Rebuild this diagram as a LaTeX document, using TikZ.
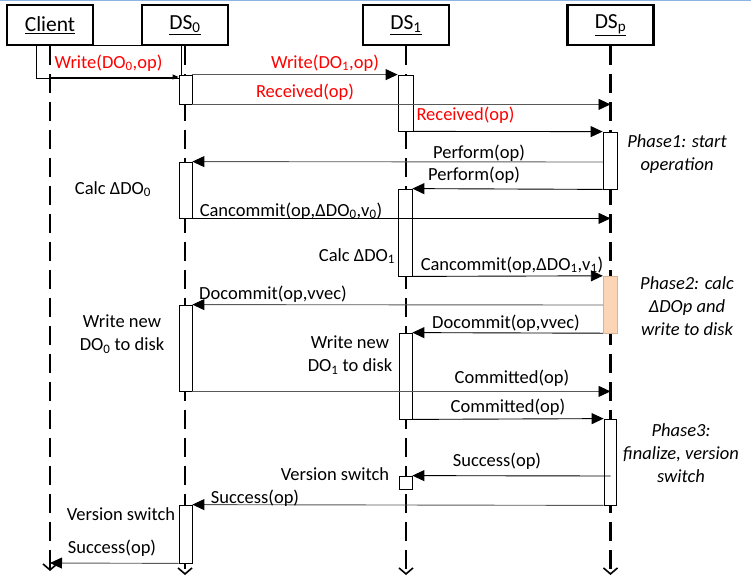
\documentclass[tikz,border=0pt]{standalone}
\usepackage{fontspec}
\setmainfont{Carlito}
\usetikzlibrary{arrows.meta,fit}
\definecolor{peach}{RGB}{251,213,181}
\definecolor{frameblue}{RGB}{141,179,226}
\definecolor{msgred}{RGB}{255,0,0}
\begin{document}
\begin{tikzpicture}[x=1pt,y=-1pt,
  head/.style={draw,line width=2.6pt,minimum width=86pt,minimum height=40pt,inner sep=0pt,font=\fontsize{21.5}{25}\selectfont},
  life/.style={line width=2.4pt,dash pattern=on 19pt off 9pt,-{Straight Barb[length=6pt,width=14pt,line width=1.6pt]}},
  act/.style={draw,fill=white,line width=0.8pt,inner sep=0pt},
  msg/.style={line width=0.9pt,-{Triangle[length=12pt,width=11pt,color=black]}},
  msgsmall/.style={line width=0.9pt,-{Triangle[length=6pt,width=5pt]}},
  lbl/.style={font=\fontsize{18.5}{23}\selectfont,inner sep=0pt,align=center},
  redlbl/.style={lbl,text=msgred},
  phase/.style={inner sep=0pt,align=center,font=\fontsize{18.5}{23}\selectfont\itshape},
]
\useasboundingbox (0,0) rectangle (751,579);
\draw[frameblue,line width=1.5pt] (0,0.5) -- (751,0.5);

% headers
\node[head] (client) at (50,25) {\underline{Client}};
\node[head] (ds0) at (185,25) {\underline{DS\textsubscript{0}}};
\node[head] (ds1) at (406,25) {\underline{DS\textsubscript{1}}};
\node[head] (dsp) at (610.5,25) {\underline{DS\textsubscript{p}}};

% lifelines
\coordinate (cend) at (50,571);
\coordinate (d0end) at (185,575);
\coordinate (d1end) at (406,575);
\coordinate (dpend) at (610.5,575);
\draw[life] (client.south) -- (cend);
\draw[life] (ds0.south) -- (d0end);
\draw[life] (ds1.south) -- (d1end);
\draw[life] (dsp.south) -- (dpend);

% client note
\node[draw,line width=0.8pt,inner sep=0pt,fit={(36,45) (181,78)}] (note) {};
\node[redlbl] (w0) at (108.5,63) {Write(DO\textsubscript{0},op)};

% activations
\node[act,fit={(179,75) (192,104)}] (a01) {};
\node[act,fit={(179,162) (192,218)}] (a02) {};
\node[act,fit={(179,305) (192,391)}] (a03) {};
\node[act,fit={(179,505) (192,563)}] (a04) {};
\node[act,fit={(398,75) (413,131)}] (a11) {};
\node[act,fit={(398,189) (412,276)}] (a12) {};
\node[act,fit={(399,333) (412,419)}] (a13) {};
\node[act,fit={(399,476) (412,489)}] (a14) {};
\node[act,fit={(603,132) (617,189)}] (ap1) {};
\node[act,fill=peach,draw=peach!85!black,line width=0.4pt,fit={(603,276) (617,333)}] (ap2) {};
\node[act,fit={(604,419) (616,505)}] (ap3) {};

% messages
\coordinate (cw) at (50,77);
\draw[msgsmall] (cw) -- (a01.west |- cw);
\draw[msg,black!65] (a01.north east) -- (a11.north west);
\node[redlbl] (w1) at (325,63) {Write(DO\textsubscript{1},op)};
\draw[msg,black!65] (a01.south east) -- (dsp.south |- a01.south east);
\node[redlbl] (r1) at (305,92) {Received(op)};
\draw[msg] (a11.south east) -- (ap1.north west);
\node[redlbl] (r2) at (465.5,115) {Received(op)};

\coordinate (pf1) at (603,162);
\draw[msg,black!65] (pf1) -- (a02.north east);
\node[lbl] (p1) at (479,153) {Perform(op)};
\draw[msg] (ap1.south west) -- (a12.north east);
\node[lbl] (p2) at (474,175) {Perform(op)};
\node[lbl] (c0) at (113,189) {Calc ΔDO\textsubscript{0}};
\draw[msg] (a02.south east) -- (dsp.south |- a02.south east);
\node[lbl] (cc0) at (291,211) {Cancommit(op,ΔDO\textsubscript{0},v\textsubscript{0})};
\node[lbl] (c1) at (357,256) {Calc ΔDO\textsubscript{1}};
\draw[msg] (a12.south east) -- (ap2.north west);
\node[lbl] (cc1) at (512,265) {Cancommit(op,ΔDO\textsubscript{1},v\textsubscript{1})};

\coordinate (dc1) at (603,305);
\draw[msg,black!65] (dc1) -- (a03.north east);
\node[lbl] (d1) at (273,294) {Docommit(op,vvec)};
\draw[msg] (ap2.south west) -- (a13.north east);
\node[lbl] (d2) at (506,323) {Docommit(op,vvec)};
\node[lbl] (wn0) at (122,334) {Write new\\DO\textsubscript{0} to disk};
\node[lbl] (wn1) at (350,355) {Write new\\DO\textsubscript{1} to disk};

\draw[msg,black!65] (a03.south east) -- (dsp.south |- a03.south east);
\node[lbl] (cm1) at (512,378) {Committed(op)};
\draw[msg] (a13.south east) -- (ap3.north west);
\node[lbl] (cm2) at (508,407) {Committed(op)};

\coordinate (s1) at (610.5,476);
\draw[msg] (s1) -- (a14.north east);
\node[lbl] (su1) at (497,461) {Success(op)};
\node[lbl] (vs1) at (335,474) {Version switch};
\draw[msg,black!65] (ap3.south west) -- (a04.north east);
\node[lbl] (su2) at (255,498) {Success(op)};
\node[lbl] (vs0) at (121,514) {Version switch};
\coordinate (s3) at (50,563);
\draw[msg,black!65] (a04.south west) -- (s3);
\node[lbl] (su3) at (112,548) {Success(op)};

% phases
\node[phase] (ph1) at (677,154.5) {Phase1: start\\operation};
\node[phase] (ph2) at (687,306) {Phase2: calc\\ΔDOp and\\write to disk};
\node[phase] (ph3) at (681,453) {Phase3:\\finalize, version\\switch};
\end{tikzpicture}
\end{document}
